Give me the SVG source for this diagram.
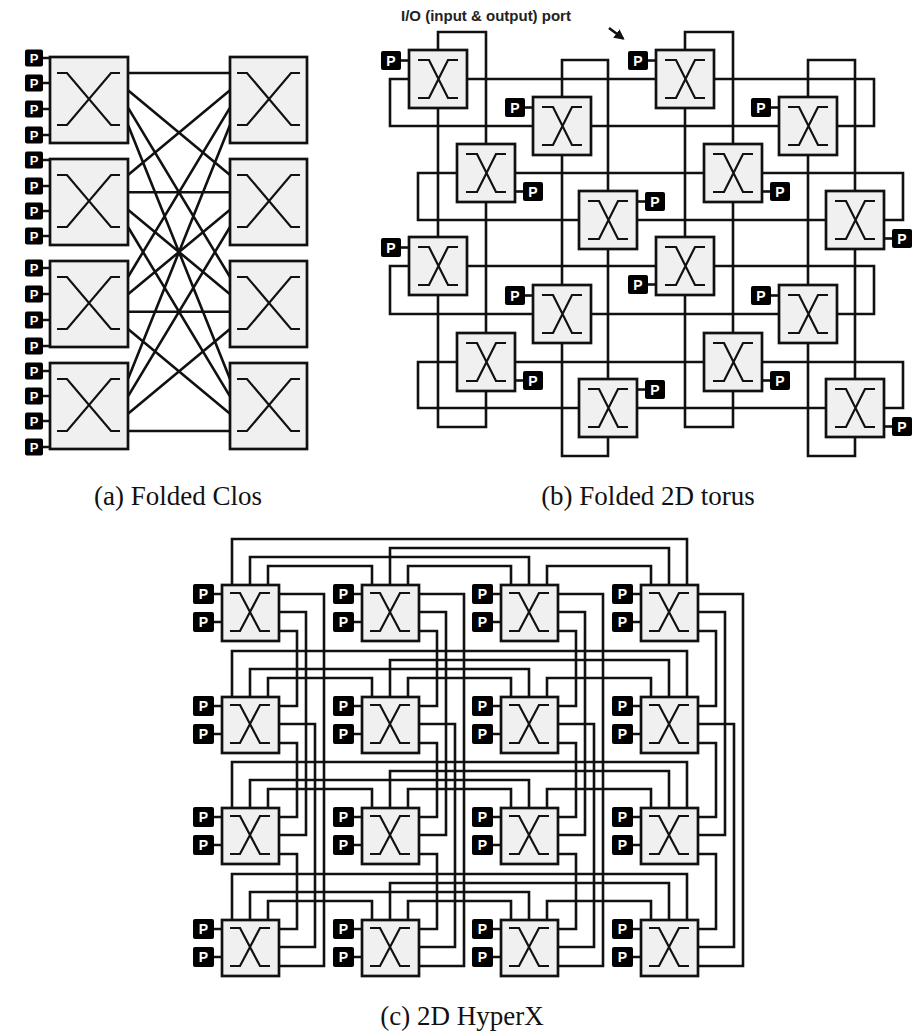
<svg xmlns="http://www.w3.org/2000/svg" xmlns:xlink="http://www.w3.org/1999/xlink" width="921" height="1033" viewBox="0 0 921 1033">
<style>
.sw{fill:#f0f0f0;stroke:#111;stroke-width:2.7}
.xg{fill:none;stroke:#111;stroke-width:2.2}
.ln{fill:none;stroke:#111;stroke-width:2.6}
.pb{fill:#000}
.pt{font-family:"Liberation Sans",Arial,sans-serif;font-weight:bold;fill:#fff;text-anchor:middle}
.p1{font-size:13px}
.p2{font-size:14px}
.cap{font-family:"Liberation Serif","Times New Roman",serif;font-size:27px;fill:#111;text-anchor:middle}
.io{font-family:"Liberation Sans",Arial,sans-serif;font-weight:bold;font-size:15px;fill:#222}
</style>
<defs>
<path id="xc" d="M7,16H17L61,68H70M7,68H17L61,16H70"/>
<path id="xt" d="M9,10H20L39,48H49M9,48H20L39,10H49"/>
<path id="xh" d="M8,8H18L38,46H48M8,46H18L38,8H48"/>
<marker id="ah" viewBox="0 0 10 10" refX="8" refY="5" markerWidth="4" markerHeight="4" orient="auto"><path d="M0,0L10,5L0,10z" fill="#111"/></marker>
</defs>
<rect width="921" height="1033" fill="#fff"/>

<g id="connectors">
<!-- Clos -->
<path class="ln" d="M128,73L230,73M128,90.3L230,175M128,107.7L230,277M128,125L230,379M128,175L230,90.3M128,192.3L230,192.3M128,209.7L230,294.3M128,227L230,396.3M128,277L230,107.7M128,294.3L230,209.7M128,311.7L230,311.7M128,329L230,413.7M128,379L230,125M128,396.3L230,227M128,413.7L230,329M128,431L230,431"/>
<!-- Torus rings -->
<path class="ln" d="M390,79H874V126H390Z M418,173H903V220H418Z M390,266H874V314H390Z M418,362H903V408H418Z"/>
<path class="ln" d="M438,32H486V427H438Z M562,60H608V456H562Z M685,32H733V427H685Z M808,60H855V456H808Z"/>
<!-- I/O arrow -->
<path class="ln" d="M609,28L623,38.5" stroke-width="2" marker-end="url(#ah)"/>
<!-- HyperX row links -->
<path class="ln" d="M268,585V566H372V585M408,585V566H511V585M547,585V566H651V585M250,585V557H529V585M390,585V548H669V585M232,585V539H687V585"/>
<path class="ln" d="M268,697V678H372V697M408,697V678H511V697M547,697V678H651V697M250,697V669H529V697M390,697V660H669V697M232,697V651H687V697"/>
<path class="ln" d="M268,808V789H372V808M408,808V789H511V808M547,808V789H651V808M250,808V780H529V808M390,808V771H669V808M232,808V762H687V808"/>
<path class="ln" d="M268,920V901H372V920M408,920V901H511V920M547,920V901H651V920M250,920V892H529V920M390,920V883H669V920M232,920V874H687V920"/>
<!-- HyperX column links -->
<path class="ln" d="M279,631H297V706H279M279,743H297V817H279M279,854H297V929H279M279,612H306V835H279M279,724H315V947H279M279,594H324V966H279"/>
<path class="ln" d="M419,631H437V706H419M419,743H437V817H419M419,854H437V929H419M419,612H446V835H419M419,724H455V947H419M419,594H464V966H419"/>
<path class="ln" d="M558,631H576V706H558M558,743H576V817H558M558,854H576V929H558M558,612H585V835H558M558,724H594V947H558M558,594H603V966H558"/>
<path class="ln" d="M698,631H716V706H698M698,743H716V817H698M698,854H716V929H698M698,612H725V835H698M698,724H734V947H698M698,594H743V966H698"/>
</g>

<!-- Folded Clos nodes -->
<g id="clos_L1"><rect class="sw" x="50" y="57" width="78" height="86"/><use xlink:href="#xc" class="xg" x="50" y="57"/>
<path class="ln" d="M43,58H50M43,83H50M43,109H50M43,135H50"/>
<rect class="pb" x="25" y="49.5" width="18" height="17" rx="2"/><text class="pt p1" x="34" y="62.5">P</text>
<rect class="pb" x="25" y="74.5" width="18" height="17" rx="2"/><text class="pt p1" x="34" y="87.5">P</text>
<rect class="pb" x="25" y="100.5" width="18" height="17" rx="2"/><text class="pt p1" x="34" y="113.5">P</text>
<rect class="pb" x="25" y="126.5" width="18" height="17" rx="2"/><text class="pt p1" x="34" y="139.5">P</text></g>
<g id="clos_L2"><rect class="sw" x="50" y="159" width="78" height="86"/><use xlink:href="#xc" class="xg" x="50" y="159"/>
<path class="ln" d="M43,160H50M43,186H50M43,211H50M43,236H50"/>
<rect class="pb" x="25" y="151.5" width="18" height="17" rx="2"/><text class="pt p1" x="34" y="164.5">P</text>
<rect class="pb" x="25" y="177.5" width="18" height="17" rx="2"/><text class="pt p1" x="34" y="190.5">P</text>
<rect class="pb" x="25" y="202.5" width="18" height="17" rx="2"/><text class="pt p1" x="34" y="215.5">P</text>
<rect class="pb" x="25" y="227.5" width="18" height="17" rx="2"/><text class="pt p1" x="34" y="240.5">P</text></g>
<g id="clos_L3"><rect class="sw" x="50" y="261" width="78" height="86"/><use xlink:href="#xc" class="xg" x="50" y="261"/>
<path class="ln" d="M43,268H50M43,294H50M43,320H50M43,346H50"/>
<rect class="pb" x="25" y="259.5" width="18" height="17" rx="2"/><text class="pt p1" x="34" y="272.5">P</text>
<rect class="pb" x="25" y="285.5" width="18" height="17" rx="2"/><text class="pt p1" x="34" y="298.5">P</text>
<rect class="pb" x="25" y="311.5" width="18" height="17" rx="2"/><text class="pt p1" x="34" y="324.5">P</text>
<rect class="pb" x="25" y="337.5" width="18" height="17" rx="2"/><text class="pt p1" x="34" y="350.5">P</text></g>
<g id="clos_L4"><rect class="sw" x="50" y="363" width="78" height="86"/><use xlink:href="#xc" class="xg" x="50" y="363"/>
<path class="ln" d="M43,371H50M43,396H50M43,421H50M43,447H50"/>
<rect class="pb" x="25" y="362.5" width="18" height="17" rx="2"/><text class="pt p1" x="34" y="375.5">P</text>
<rect class="pb" x="25" y="387.5" width="18" height="17" rx="2"/><text class="pt p1" x="34" y="400.5">P</text>
<rect class="pb" x="25" y="412.5" width="18" height="17" rx="2"/><text class="pt p1" x="34" y="425.5">P</text>
<rect class="pb" x="25" y="438.5" width="18" height="17" rx="2"/><text class="pt p1" x="34" y="451.5">P</text></g>
<g id="clos_R1"><rect class="sw" x="230" y="57" width="77" height="86"/><use xlink:href="#xc" class="xg" x="230" y="57"/></g>
<g id="clos_R2"><rect class="sw" x="230" y="159" width="77" height="86"/><use xlink:href="#xc" class="xg" x="230" y="159"/></g>
<g id="clos_R3"><rect class="sw" x="230" y="261" width="77" height="86"/><use xlink:href="#xc" class="xg" x="230" y="261"/></g>
<g id="clos_R4"><rect class="sw" x="230" y="363" width="77" height="86"/><use xlink:href="#xc" class="xg" x="230" y="363"/></g>

<!-- Torus nodes -->
<g id="t_A"><rect class="sw" x="409" y="50" width="58" height="58"/><use xlink:href="#xt" class="xg" x="409" y="50"/><path class="ln" d="M401,60.5H409"/><rect class="pb" x="381" y="51" width="20" height="19" rx="2"/><text class="pt p2" x="391" y="65.5">P</text></g>
<g id="t_B"><rect class="sw" x="533" y="97" width="58" height="58"/><use xlink:href="#xt" class="xg" x="533" y="97"/><path class="ln" d="M525,107.5H533"/><rect class="pb" x="505" y="98" width="20" height="19" rx="2"/><text class="pt p2" x="515" y="112.5">P</text></g>
<g id="t_C"><rect class="sw" x="457" y="144" width="58" height="58"/><use xlink:href="#xt" class="xg" x="457" y="144"/><path class="ln" d="M515,191.5H523"/><rect class="pb" x="523" y="182" width="20" height="19" rx="2"/><text class="pt p2" x="533" y="196.5">P</text></g>
<g id="t_D"><rect class="sw" x="579" y="191" width="58" height="58"/><use xlink:href="#xt" class="xg" x="579" y="191"/><path class="ln" d="M637,201.5H645"/><rect class="pb" x="645" y="192" width="20" height="19" rx="2"/><text class="pt p2" x="655" y="206.5">P</text></g>
<g id="t_E"><rect class="sw" x="656" y="50" width="58" height="58"/><use xlink:href="#xt" class="xg" x="656" y="50"/><path class="ln" d="M648,60.5H656"/><rect class="pb" x="628" y="51" width="20" height="19" rx="2"/><text class="pt p2" x="638" y="65.5">P</text></g>
<g id="t_F"><rect class="sw" x="779" y="97" width="58" height="58"/><use xlink:href="#xt" class="xg" x="779" y="97"/><path class="ln" d="M771,107.5H779"/><rect class="pb" x="751" y="98" width="20" height="19" rx="2"/><text class="pt p2" x="761" y="112.5">P</text></g>
<g id="t_G"><rect class="sw" x="704" y="144" width="58" height="58"/><use xlink:href="#xt" class="xg" x="704" y="144"/><path class="ln" d="M762,191.5H770"/><rect class="pb" x="770" y="182" width="20" height="19" rx="2"/><text class="pt p2" x="780" y="196.5">P</text></g>
<g id="t_H"><rect class="sw" x="826" y="191" width="58" height="58"/><use xlink:href="#xt" class="xg" x="826" y="191"/><path class="ln" d="M884,238.5H892"/><rect class="pb" x="892" y="229" width="20" height="19" rx="2"/><text class="pt p2" x="902" y="243.5">P</text></g>
<g id="t_I"><rect class="sw" x="409" y="237" width="58" height="58"/><use xlink:href="#xt" class="xg" x="409" y="237"/><path class="ln" d="M401,247.5H409"/><rect class="pb" x="381" y="238" width="20" height="19" rx="2"/><text class="pt p2" x="391" y="252.5">P</text></g>
<g id="t_J"><rect class="sw" x="533" y="285" width="58" height="58"/><use xlink:href="#xt" class="xg" x="533" y="285"/><path class="ln" d="M525,295.5H533"/><rect class="pb" x="505" y="286" width="20" height="19" rx="2"/><text class="pt p2" x="515" y="300.5">P</text></g>
<g id="t_K"><rect class="sw" x="457" y="333" width="58" height="58"/><use xlink:href="#xt" class="xg" x="457" y="333"/><path class="ln" d="M515,380.5H523"/><rect class="pb" x="523" y="371" width="20" height="19" rx="2"/><text class="pt p2" x="533" y="385.5">P</text></g>
<g id="t_L"><rect class="sw" x="579" y="379" width="58" height="58"/><use xlink:href="#xt" class="xg" x="579" y="379"/><path class="ln" d="M637,389.5H645"/><rect class="pb" x="645" y="380" width="20" height="19" rx="2"/><text class="pt p2" x="655" y="394.5">P</text></g>
<g id="t_M"><rect class="sw" x="656" y="237" width="58" height="58"/><use xlink:href="#xt" class="xg" x="656" y="237"/><path class="ln" d="M648,284.5H656"/><rect class="pb" x="628" y="275" width="20" height="19" rx="2"/><text class="pt p2" x="638" y="289.5">P</text></g>
<g id="t_N"><rect class="sw" x="779" y="285" width="58" height="58"/><use xlink:href="#xt" class="xg" x="779" y="285"/><path class="ln" d="M771,295.5H779"/><rect class="pb" x="751" y="286" width="20" height="19" rx="2"/><text class="pt p2" x="761" y="300.5">P</text></g>
<g id="t_O"><rect class="sw" x="704" y="333" width="58" height="58"/><use xlink:href="#xt" class="xg" x="704" y="333"/><path class="ln" d="M762,380.5H770"/><rect class="pb" x="770" y="371" width="20" height="19" rx="2"/><text class="pt p2" x="780" y="385.5">P</text></g>
<g id="t_Q"><rect class="sw" x="826" y="379" width="58" height="58"/><use xlink:href="#xt" class="xg" x="826" y="379"/><path class="ln" d="M884,426.5H892"/><rect class="pb" x="892" y="417" width="20" height="19" rx="2"/><text class="pt p2" x="902" y="431.5">P</text></g>

<!-- HyperX nodes -->
<g id="h11"><rect class="sw" x="222" y="585" width="57" height="56"/><use xlink:href="#xh" class="xg" x="222" y="585"/><path class="ln" d="M214,594H222M214,622H222"/><rect class="pb" x="193" y="584" width="21" height="20" rx="2"/><text class="pt p2" x="203.5" y="599">P</text><rect class="pb" x="193" y="612" width="21" height="20" rx="2"/><text class="pt p2" x="203.5" y="627">P</text></g>
<g id="h12"><rect class="sw" x="362" y="585" width="57" height="56"/><use xlink:href="#xh" class="xg" x="362" y="585"/><path class="ln" d="M354,594H362M354,622H362"/><rect class="pb" x="333" y="584" width="21" height="20" rx="2"/><text class="pt p2" x="343.5" y="599">P</text><rect class="pb" x="333" y="612" width="21" height="20" rx="2"/><text class="pt p2" x="343.5" y="627">P</text></g>
<g id="h13"><rect class="sw" x="501" y="585" width="57" height="56"/><use xlink:href="#xh" class="xg" x="501" y="585"/><path class="ln" d="M493,594H501M493,622H501"/><rect class="pb" x="472" y="584" width="21" height="20" rx="2"/><text class="pt p2" x="482.5" y="599">P</text><rect class="pb" x="472" y="612" width="21" height="20" rx="2"/><text class="pt p2" x="482.5" y="627">P</text></g>
<g id="h14"><rect class="sw" x="641" y="585" width="57" height="56"/><use xlink:href="#xh" class="xg" x="641" y="585"/><path class="ln" d="M633,594H641M633,622H641"/><rect class="pb" x="612" y="584" width="21" height="20" rx="2"/><text class="pt p2" x="622.5" y="599">P</text><rect class="pb" x="612" y="612" width="21" height="20" rx="2"/><text class="pt p2" x="622.5" y="627">P</text></g>

<g id="h21"><rect class="sw" x="222" y="697" width="57" height="56"/><use xlink:href="#xh" class="xg" x="222" y="697"/><path class="ln" d="M214,706H222M214,734H222"/><rect class="pb" x="193" y="696" width="21" height="20" rx="2"/><text class="pt p2" x="203.5" y="711">P</text><rect class="pb" x="193" y="724" width="21" height="20" rx="2"/><text class="pt p2" x="203.5" y="739">P</text></g>
<g id="h22"><rect class="sw" x="362" y="697" width="57" height="56"/><use xlink:href="#xh" class="xg" x="362" y="697"/><path class="ln" d="M354,706H362M354,734H362"/><rect class="pb" x="333" y="696" width="21" height="20" rx="2"/><text class="pt p2" x="343.5" y="711">P</text><rect class="pb" x="333" y="724" width="21" height="20" rx="2"/><text class="pt p2" x="343.5" y="739">P</text></g>
<g id="h23"><rect class="sw" x="501" y="697" width="57" height="56"/><use xlink:href="#xh" class="xg" x="501" y="697"/><path class="ln" d="M493,706H501M493,734H501"/><rect class="pb" x="472" y="696" width="21" height="20" rx="2"/><text class="pt p2" x="482.5" y="711">P</text><rect class="pb" x="472" y="724" width="21" height="20" rx="2"/><text class="pt p2" x="482.5" y="739">P</text></g>
<g id="h24"><rect class="sw" x="641" y="697" width="57" height="56"/><use xlink:href="#xh" class="xg" x="641" y="697"/><path class="ln" d="M633,706H641M633,734H641"/><rect class="pb" x="612" y="696" width="21" height="20" rx="2"/><text class="pt p2" x="622.5" y="711">P</text><rect class="pb" x="612" y="724" width="21" height="20" rx="2"/><text class="pt p2" x="622.5" y="739">P</text></g>

<g id="h31"><rect class="sw" x="222" y="808" width="57" height="56"/><use xlink:href="#xh" class="xg" x="222" y="808"/><path class="ln" d="M214,817H222M214,845H222"/><rect class="pb" x="193" y="807" width="21" height="20" rx="2"/><text class="pt p2" x="203.5" y="822">P</text><rect class="pb" x="193" y="835" width="21" height="20" rx="2"/><text class="pt p2" x="203.5" y="850">P</text></g>
<g id="h32"><rect class="sw" x="362" y="808" width="57" height="56"/><use xlink:href="#xh" class="xg" x="362" y="808"/><path class="ln" d="M354,817H362M354,845H362"/><rect class="pb" x="333" y="807" width="21" height="20" rx="2"/><text class="pt p2" x="343.5" y="822">P</text><rect class="pb" x="333" y="835" width="21" height="20" rx="2"/><text class="pt p2" x="343.5" y="850">P</text></g>
<g id="h33"><rect class="sw" x="501" y="808" width="57" height="56"/><use xlink:href="#xh" class="xg" x="501" y="808"/><path class="ln" d="M493,817H501M493,845H501"/><rect class="pb" x="472" y="807" width="21" height="20" rx="2"/><text class="pt p2" x="482.5" y="822">P</text><rect class="pb" x="472" y="835" width="21" height="20" rx="2"/><text class="pt p2" x="482.5" y="850">P</text></g>
<g id="h34"><rect class="sw" x="641" y="808" width="57" height="56"/><use xlink:href="#xh" class="xg" x="641" y="808"/><path class="ln" d="M633,817H641M633,845H641"/><rect class="pb" x="612" y="807" width="21" height="20" rx="2"/><text class="pt p2" x="622.5" y="822">P</text><rect class="pb" x="612" y="835" width="21" height="20" rx="2"/><text class="pt p2" x="622.5" y="850">P</text></g>

<g id="h41"><rect class="sw" x="222" y="920" width="57" height="56"/><use xlink:href="#xh" class="xg" x="222" y="920"/><path class="ln" d="M214,929H222M214,957H222"/><rect class="pb" x="193" y="919" width="21" height="20" rx="2"/><text class="pt p2" x="203.5" y="934">P</text><rect class="pb" x="193" y="947" width="21" height="20" rx="2"/><text class="pt p2" x="203.5" y="962">P</text></g>
<g id="h42"><rect class="sw" x="362" y="920" width="57" height="56"/><use xlink:href="#xh" class="xg" x="362" y="920"/><path class="ln" d="M354,929H362M354,957H362"/><rect class="pb" x="333" y="919" width="21" height="20" rx="2"/><text class="pt p2" x="343.5" y="934">P</text><rect class="pb" x="333" y="947" width="21" height="20" rx="2"/><text class="pt p2" x="343.5" y="962">P</text></g>
<g id="h43"><rect class="sw" x="501" y="920" width="57" height="56"/><use xlink:href="#xh" class="xg" x="501" y="920"/><path class="ln" d="M493,929H501M493,957H501"/><rect class="pb" x="472" y="919" width="21" height="20" rx="2"/><text class="pt p2" x="482.5" y="934">P</text><rect class="pb" x="472" y="947" width="21" height="20" rx="2"/><text class="pt p2" x="482.5" y="962">P</text></g>
<g id="h44"><rect class="sw" x="641" y="920" width="57" height="56"/><use xlink:href="#xh" class="xg" x="641" y="920"/><path class="ln" d="M633,929H641M633,957H641"/><rect class="pb" x="612" y="919" width="21" height="20" rx="2"/><text class="pt p2" x="622.5" y="934">P</text><rect class="pb" x="612" y="947" width="21" height="20" rx="2"/><text class="pt p2" x="622.5" y="962">P</text></g>

<g id="labels">
<text class="io" x="401" y="21">I/O (input &amp; output) port</text>
<text class="cap" x="178" y="505">(a)  Folded Clos</text>
<text class="cap" x="648" y="505">(b)  Folded 2D torus</text>
<text class="cap" x="462" y="1025">(c) 2D HyperX</text>
</g>
</svg>
